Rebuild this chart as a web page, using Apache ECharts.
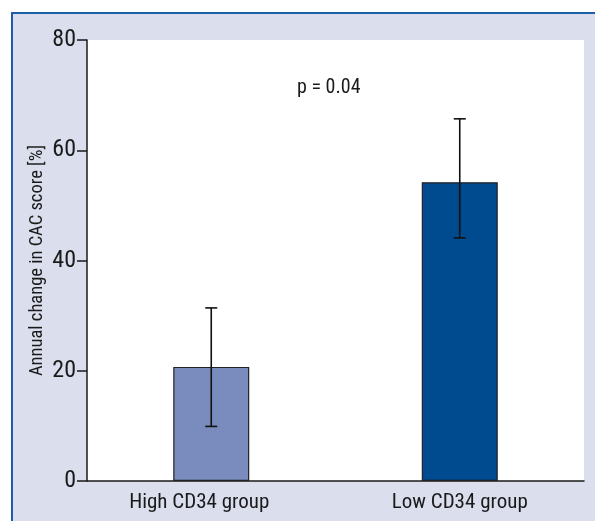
<!DOCTYPE html>
<html><head><meta charset="utf-8">
<script src="https://cdn.jsdelivr.net/npm/echarts@6/dist/echarts.min.js"></script>
<style>
html,body{margin:0;padding:0;background:#fff;}
#panel{position:absolute;left:11px;top:12px;width:584px;height:509px;background:#dadeed;border-top:2px solid #1d5ea8;border-left:2px solid #1d5ea8;box-sizing:border-box;}
#chart{position:absolute;left:0;top:0;width:595px;height:521px;}
</style></head>
<body>
<div id="panel"></div>
<div id="chart"></div>
<script>
const categories = ['High CD34 group', 'Low CD34 group'];
const means = [20.7, 54.2];
const errLow = [9.9, 44.1];
const errHigh = [31.4, 65.7];
const barColors = ['#7a8bbd', '#004a8f'];
const yTicks = [0, 20, 40, 60, 80];
const FONT = '"Liberation Sans Narrow", "Roboto Condensed", Roboto, sans-serif';

const chart = echarts.init(document.getElementById('chart'), null, {renderer:'canvas'});
chart.setOption({
  backgroundColor: 'transparent',
  animation: false,
  grid: {left: 87, right: 11, top: 40, bottom: 40, show: true, backgroundColor: '#ffffff', borderWidth: 0},
  xAxis: {
    type: 'category',
    data: categories.map((c, i) => i === 0 ? {value: c, textStyle: {padding: [0, 24, 0, 0]}} : c),
    axisLine: {show: true, lineStyle: {color: '#1a1a1a', width: 1.5}},
    axisTick: {show: false},
    axisLabel: {color: '#1a1a1a', fontSize: 21, fontFamily: FONT, margin: 11}
  },
  yAxis: {
    type: 'value', min: 0, max: 80, interval: 20,
    name: 'Annual change in CAC score [%]', nameLocation: 'middle', nameGap: 40,
    nameMoveOverlap: false,
    nameTextStyle: {color: '#1a1a1a', fontSize: 18.5, fontFamily: FONT},
    axisLine: {show: true, lineStyle: {color: '#1a1a1a', width: 1.5}},
    axisTick: {show: true, length: 10, lineStyle: {color: '#1a1a1a', width: 1.5}},
    axisLabel: {color: '#1a1a1a', fontSize: 24, fontFamily: FONT, margin: 11,
      formatter: v => yTicks.includes(v) ? String(v) : ''},
    splitLine: {show: false}
  },
  series: [
    {
      type: 'bar', barWidth: 76,
      data: means.map((v, i) => ({value: v, itemStyle: {color: barColors[i]}})),
      itemStyle: {borderColor: '#222', borderWidth: 1.2},
      z: 2
    },
    {
      type: 'custom', z: 5,
      data: categories.map((c, i) => [i, errLow[i], errHigh[i]]),
      renderItem: function (params, api) {
        const x = api.coord([api.value(0), 0])[0];
        const lo = api.coord([api.value(0), api.value(1)])[1];
        const hi = api.coord([api.value(0), api.value(2)])[1];
        const w = 6;
        const st = {stroke: '#111', lineWidth: 1.6};
        return {type: 'group', children: [
          {type: 'line', shape: {x1: x, y1: lo, x2: x, y2: hi}, style: st},
          {type: 'line', shape: {x1: x - w, y1: lo, x2: x + w, y2: lo}, style: st},
          {type: 'line', shape: {x1: x - w, y1: hi, x2: x + w, y2: hi}, style: st}
        ]};
      }
    }
  ],
  graphic: [
    {type: 'text', left: 297, top: 78, style: {text: 'p = 0.04', fill: '#1a1a1a', fontSize: 20, fontFamily: FONT}}
  ]
});
</script>
</body></html>
